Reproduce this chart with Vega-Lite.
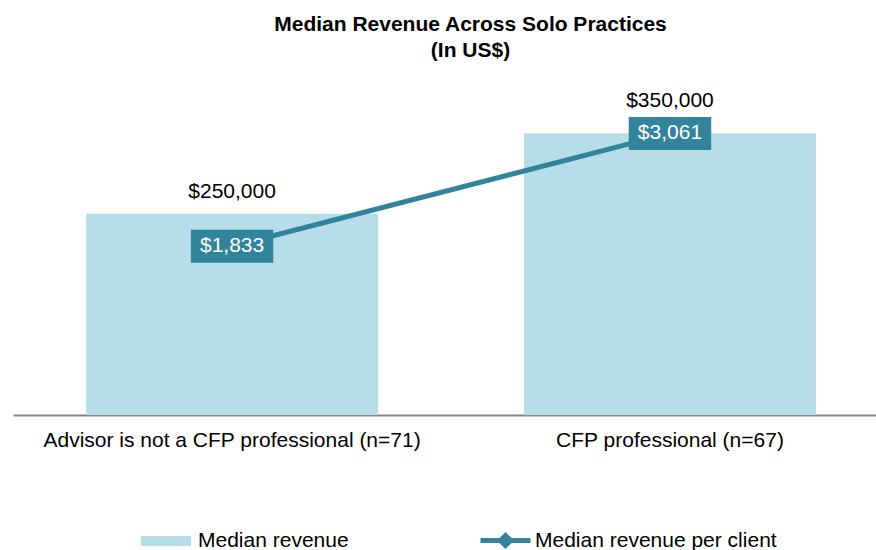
{
  "$schema": "https://vega.github.io/schema/vega-lite/v6.json",
  "autosize": "none",
  "width": 863,
  "height": 322,
  "padding": {"left": 13, "top": 93, "right": 0, "bottom": 135},
  "background": "white",
  "config": {
    "font": "Liberation Sans",
    "view": {"stroke": null},
    "legend": {"labelFontSize": 21, "labelColor": "#000000", "labelFont": "Liberation Sans", "labelLimit": 400, "orient": "none", "direction": "horizontal"}
  },
  "title": {
    "text": ["Median Revenue Across Solo Practices", "(In US$)"],
    "fontSize": 21,
    "fontWeight": "bold",
    "color": "#000000",
    "lineHeight": 26,
    "anchor": "middle",
    "dx": 26,
    "offset": 29
  },
  "data": {
    "values": [
      {"group": "Advisor is not a CFP professional (n=71)", "revenue": 250000, "per_client": 1833},
      {"group": "CFP professional (n=67)", "revenue": 350000, "per_client": 3061}
    ]
  },
  "encoding": {
    "x": {
      "field": "group",
      "type": "nominal",
      "sort": null,
      "scale": {"paddingInner": 0.3333, "paddingOuter": 0.152, "align": 0.549},
      "axis": {
        "title": null,
        "labelAngle": 0,
        "labelFontSize": 21,
        "labelColor": "#000000",
        "labelLimit": 0,
        "labelPadding": 14,
        "ticks": false,
        "domainColor": "#868686",
        "domainWidth": 2,
        "grid": false
      }
    }
  },
  "layer": [
    {
      "encoding": {
        "y": {"field": "revenue", "type": "quantitative", "scale": {"domain": [0, 400000], "nice": false}, "axis": null}
      },
      "layer": [
        {
          "mark": {"type": "bar"},
          "encoding": {
            "fill": {
              "datum": "Median revenue",
              "type": "nominal",
              "scale": {"range": ["#b7dde8"]},
              "legend": {
                "title": null,
                "orient": "none",
                "legendX": 128,
                "legendY": 423,
                "symbolType": "M-1,-0.2L1,-0.2L1,0.2L-1,0.2Z",
                "symbolSize": 2500,
                "symbolStrokeWidth": 0,
                "labelOffset": 7,
                "padding": 0
              }
            }
          }
        },
        {
          "transform": [{"filter": "datum.revenue < 300000"}],
          "mark": {"type": "text", "fontSize": 21, "color": "#000000", "baseline": "alphabetic", "dy": -16},
          "encoding": {"text": {"field": "revenue", "type": "quantitative", "format": "$,.0f"}}
        },
        {
          "transform": [{"filter": "datum.revenue >= 300000"}],
          "mark": {"type": "text", "fontSize": 21, "color": "#000000", "baseline": "alphabetic", "dy": -26},
          "encoding": {"text": {"field": "revenue", "type": "quantitative", "format": "$,.0f"}}
        }
      ]
    },
    {
      "encoding": {
        "y": {"field": "per_client", "type": "quantitative", "scale": {"domain": [0, 3500], "nice": false}, "axis": null}
      },
      "layer": [
        {
          "mark": {"type": "line", "strokeWidth": 5},
          "encoding": {
            "stroke": {
              "datum": "Median revenue per client",
              "type": "nominal",
              "scale": {"range": ["#31849b"]},
              "legend": {
                "title": null,
                "orient": "none",
                "legendX": 465,
                "legendY": 420,
                "symbolType": "M-1,0L1,0M-0.2,0L0,-0.2L0.2,0L0,0.2Z",
                "symbolSize": 2500,
                "symbolStrokeWidth": 5,
                "symbolFillColor": "#31849b",
                "labelOffset": 2,
                "padding": 0
              }
            }
          }
        },
        {
          "mark": {"type": "point", "shape": "M-1,-0.4L1,-0.4L1,0.4L-1,0.4Z", "size": 6800, "filled": true, "opacity": 1, "color": "#31849b"}
        },
        {
          "mark": {"type": "text", "fontSize": 21, "color": "#ffffff", "baseline": "middle"},
          "encoding": {"text": {"field": "per_client", "type": "quantitative", "format": "$,.0f"}}
        }
      ]
    }
  ],
  "resolve": {"scale": {"y": "independent"}}
}
